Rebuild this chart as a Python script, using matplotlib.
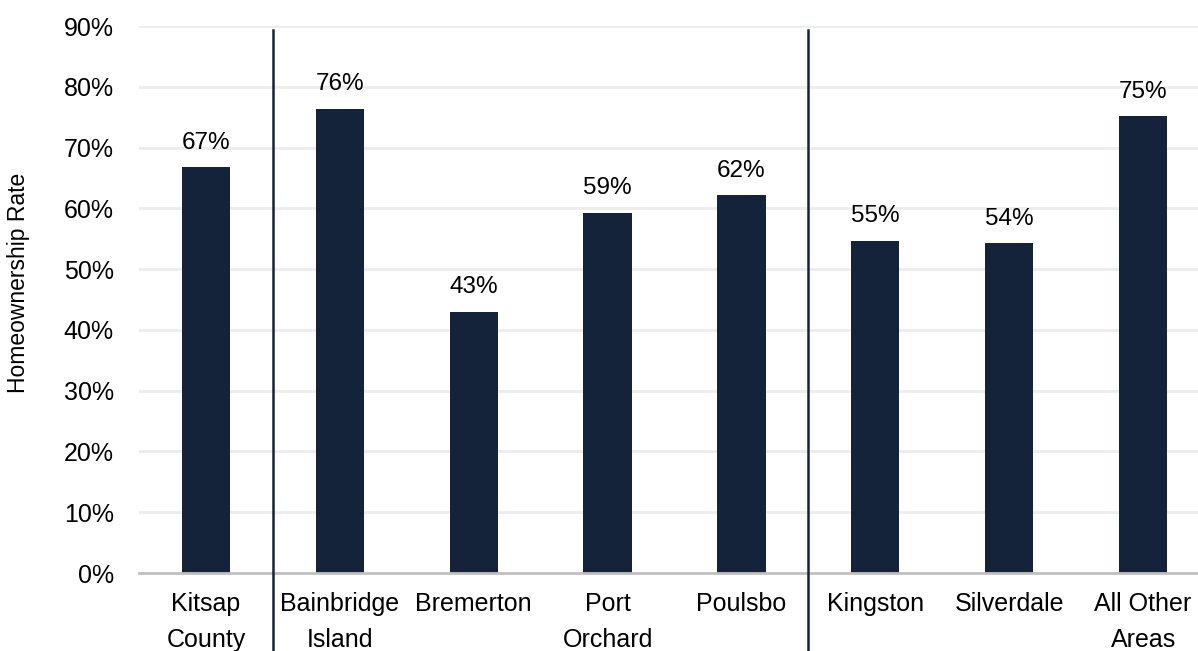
import matplotlib.pyplot as plt
import numpy as np

plt.rcParams['font.family'] = ['Liberation Sans', 'DejaVu Sans']

areas = ['Kitsap\nCounty', 'Bainbridge\nIsland', 'Bremerton', 'Port\nOrchard',
         'Poulsbo', 'Kingston', 'Silverdale', 'All Other\nAreas']
rates = [66.8, 76.4, 43.0, 59.3, 62.2, 54.7, 54.3, 75.2]
labels = ['67%', '76%', '43%', '59%', '62%', '55%', '54%', '75%']
dividers = [0.5, 4.5]

navy = '#14233a'

fig = plt.figure(figsize=(11.98, 6.51), dpi=100)
ax = fig.add_axes([0.116, 0.1198, 0.884, 0.840])

x = np.arange(len(areas))
ax.bar(x, rates, width=0.36, color=navy, zorder=3)

for xi, r, lab in zip(x, rates, labels):
    ax.text(xi, r + 2.2, lab, ha='center', va='bottom', fontsize=17.5, color='black')

ax.set_ylim(0, 90)
ax.set_xlim(-0.5, 7.41)
ax.set_yticks(np.arange(0, 91, 10))
ax.set_yticklabels([f'{v}%' for v in range(0, 91, 10)], fontsize=18)
ax.set_xticks(x)
ax.set_xticklabels(areas, fontsize=18, linespacing=1.6)
ax.tick_params(axis='both', length=0)
ax.tick_params(axis='x', pad=14)
ax.tick_params(axis='y', pad=18)

ax.grid(axis='y', color='#ececec', linewidth=2, zorder=0)
for s in ['top', 'right', 'left']:
    ax.spines[s].set_visible(False)
ax.spines['bottom'].set_color('#c0c0c0')
ax.spines['bottom'].set_linewidth(2)
ax.spines['bottom'].set_zorder(4)

for d in dividers:
    ax.axvline(d, ymin=-0.143, ymax=0.993, color=navy, linewidth=1.8, clip_on=False, zorder=5)

ax.set_ylabel('Homeownership Rate', fontsize=16.5)
ax.yaxis.set_label_coords(-0.103, 0.53)

fig.savefig('out.png', dpi=100)
